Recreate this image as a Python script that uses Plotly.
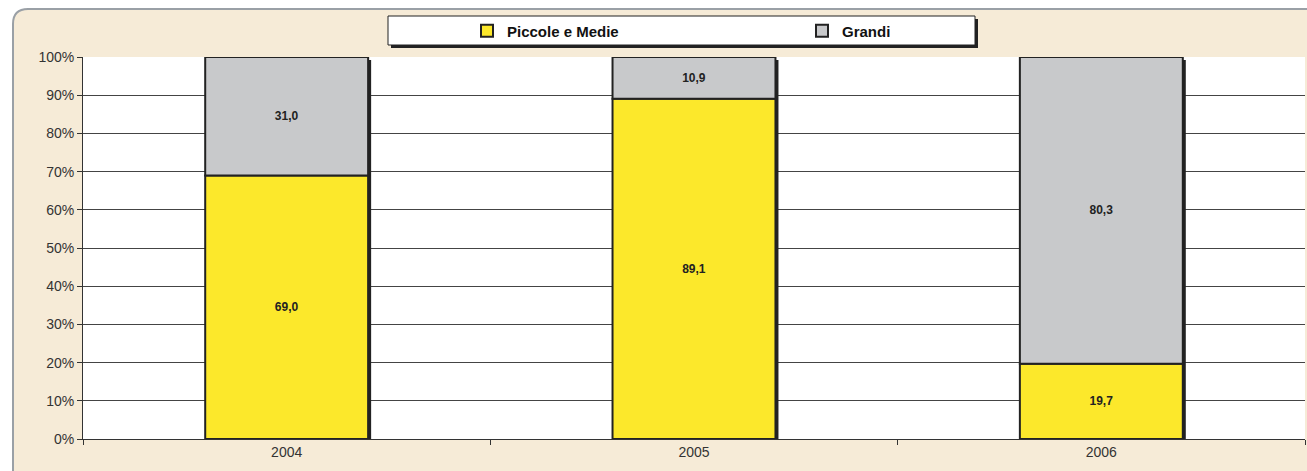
import plotly.graph_objects as go

years = ["2004", "2005", "2006"]
piccole_medie = [69.0, 89.1, 19.7]
grandi = [31.0, 10.9, 80.3]
y_ticks = [0, 10, 20, 30, 40, 50, 60, 70, 80, 90, 100]
y_tick_labels = [f"{v}%" for v in y_ticks]

YELLOW = "#fce82b"
GREY = "#c8c9cb"
FONT = "Arial, Liberation Sans, sans-serif"

W, H = 1307, 471
ML, MR, MT, MB = 83, 2, 57, 32
PW, PH = W - ML - MR, H - MT - MB


def px(x):
    return (x - ML) / PW


def py(y):
    return (H - MB - y) / PH


totals = [a + b for a, b in zip(piccole_medie, grandi)]
shadow_px = 3
bar_w = 0.4
cat_px = PW / len(years)

fig = go.Figure()

# shadow of the bars
fig.add_trace(go.Bar(
    x=years, y=[t - 100 * shadow_px / PH for t in totals], base=0,
    width=bar_w, offset=-bar_w / 2 + shadow_px / cat_px,
    marker=dict(color="#222222", line=dict(width=0)),
    showlegend=False, hoverinfo="skip",
))

label_font = dict(family=FONT, size=12, color="#222222", weight="bold")

fig.add_trace(go.Bar(
    x=years, y=piccole_medie, base=0, name="Piccole e Medie",
    width=bar_w, offset=-bar_w / 2,
    marker=dict(color=YELLOW, line=dict(color="#222222", width=2)),
    texttemplate="%{y:.1f}", textposition="inside", insidetextanchor="middle",
    textfont=label_font, textangle=0,
))
fig.add_trace(go.Bar(
    x=years, y=grandi, base=piccole_medie, name="Grandi",
    width=bar_w, offset=-bar_w / 2,
    marker=dict(color=GREY, line=dict(color="#222222", width=2)),
    texttemplate="%{y:.1f}", textposition="inside", insidetextanchor="middle",
    textfont=label_font, textangle=0,
))

shapes = [
    # beige rounded frame
    dict(type="path", xref="paper", yref="paper", layer="below",
         path=(f"M {px(13)},{py(490)} L {px(13)},{py(24)} "
               f"Q {px(13)},{py(9)} {px(28)},{py(9)} L {px(1330)},{py(9)} "
               f"L {px(1330)},{py(490)} Z"),
         fillcolor="#f6ebd7", line=dict(color="#9aa0a6", width=2)),
    # white plot area
    dict(type="rect", xref="paper", yref="paper", layer="below",
         x0=0, x1=1, y0=0, y1=1, fillcolor="white", line=dict(width=0)),
    # legend box shadow
    dict(type="rect", xref="paper", yref="paper", layer="below",
         x0=px(391), x1=px(978), y0=py(48), y1=py(19),
         fillcolor="#222222", line=dict(width=0)),
    # legend box
    dict(type="rect", xref="paper", yref="paper", layer="below",
         x0=px(388), x1=px(975), y0=py(45), y1=py(16),
         fillcolor="white", line=dict(color="#222222", width=1)),
]

fig.update_layout(
    width=W, height=H,
    margin=dict(l=ML, r=MR, t=MT, b=MB),
    paper_bgcolor="white",
    plot_bgcolor="rgba(0,0,0,0)",
    barmode="overlay",
    separators=",.",
    font=dict(family=FONT, size=14, color="#333333"),
    shapes=shapes,
    showlegend=True,
    legend=dict(
        orientation="h", x=px(467), xanchor="left", y=py(31), yanchor="middle",
        bgcolor="rgba(0,0,0,0)", borderwidth=0,
        entrywidth=290, entrywidthmode="pixels",
        font=dict(family=FONT, size=15, color="#111111", weight="bold"),
        itemclick=False, itemdoubleclick=False,
        traceorder="normal",
    ),
    xaxis=dict(
        type="category", range=[-0.5, 2.5],
        tickson="boundaries", ticks="outside", ticklen=5, tickcolor="#333333",
        showgrid=False, showline=True, linecolor="#333333", linewidth=1,
        tickfont=dict(family=FONT, size=14, color="#333333"),
        fixedrange=True,
    ),
    yaxis=dict(
        range=[0, 100], tickvals=y_ticks, ticktext=y_tick_labels,
        ticks="outside", ticklen=5, tickcolor="#333333",
        showgrid=True, gridcolor="#444444", gridwidth=1,
        showline=True, linecolor="#333333", linewidth=1,
        zeroline=False,
        tickfont=dict(family=FONT, size=14, color="#333333"),
        fixedrange=True,
    ),
)

fig.write_html("out.html", config={"displayModeBar": False},
               post_script="document.body.style.margin='0px';")
